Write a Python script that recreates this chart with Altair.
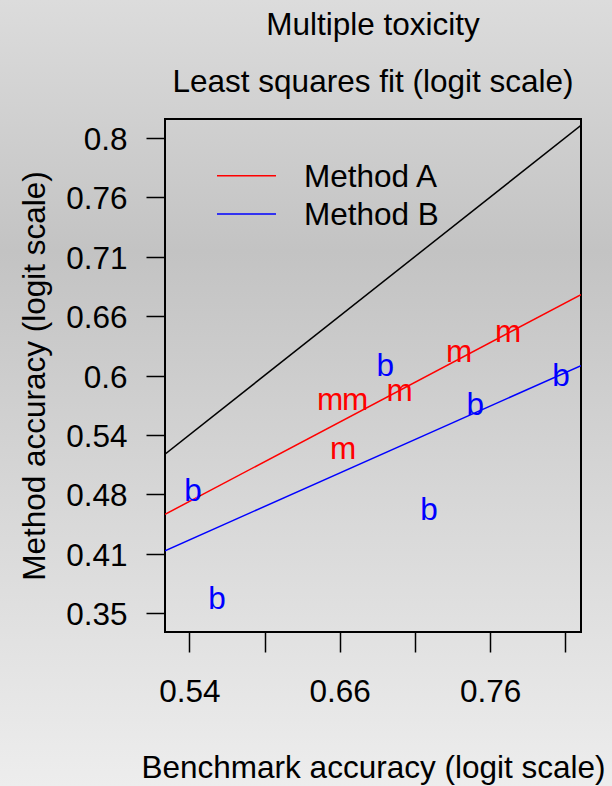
import altair as alt
import pandas as pd

# ---------------- data (probability scale) ----------------
title_main = "Multiple toxicity"
title_sub = "Least squares fit (logit scale)"
x_title = "Benchmark accuracy (logit scale)"
y_title = "Method accuracy (logit scale)"

methods = ["Method A", "Method B"]
letters = ["m", "b"]

a_benchmark = [0.6498, 0.6684, 0.7004, 0.6595, 0.7402, 0.7703]
a_accuracy = [0.5722, 0.5722, 0.5820, 0.5219, 0.6213, 0.6404]
b_benchmark = [0.5404, 0.5602, 0.6902, 0.7205, 0.7503, 0.7999]
b_accuracy = [0.4776, 0.3673, 0.6073, 0.4579, 0.5671, 0.5972]

# least-squares fits in logit space (plus identity line)
fit_names = ["Method A", "Method B", "Identity"]
fit_intercepts = [-0.230, -0.376, 0.0]
fit_slopes = [0.668, 0.563, 1.0]

# axis ticks (logit units) and domains (logit units)
x_ticks = [0.15, 0.40, 0.65, 0.90, 1.15, 1.40]
y_ticks = [-0.60, -0.35, -0.10, 0.15, 0.40, 0.65, 0.90, 1.15, 1.40]
x_domain = [0.0692, 1.452]
y_domain = [-0.6786, 1.4786]

colors = ["#ff0000", "#0000ff", "#000000"]

FONT = "Liberation Sans"
FS = 31.5
W, H = 416, 513

# ---------------- tables ----------------
pts = pd.DataFrame({
    "method": [methods[0]] * len(a_benchmark) + [methods[1]] * len(b_benchmark),
    "letter": [letters[0]] * len(a_benchmark) + [letters[1]] * len(b_benchmark),
    "benchmark": a_benchmark + b_benchmark,
    "accuracy": a_accuracy + b_accuracy,
})

rows = []
for n, i, s in zip(fit_names, fit_intercepts, fit_slopes):
    for xv in x_domain:
        rows.append({"method": n, "x": xv, "y": i + s * xv})
lines_df = pd.DataFrame(rows)

box_df = pd.DataFrame({"x": [x_domain[0]], "x2": [x_domain[1]],
                       "y": [y_domain[0]], "y2": [y_domain[1]]})

color_scale = alt.Scale(domain=fit_names, range=colors)

x_axis = alt.Axis(
    values=x_ticks, domain=False, grid=False, tickSize=20, tickWidth=1.5,
    tickColor="black", labelFont=FONT, labelFontSize=FS, labelColor="black",
    labelPadding=24.5, labelBaseline="top", labelFlush=False, labelOverlap=False,
    labelExpr="round((datum.value - 0.15) / 0.25) % 2 == 0 ? format(1/(1+exp(-datum.value)), '.2~f') : ''",
    title=x_title, titleFont=FONT, titleFontSize=FS, titleFontWeight="normal",
    titleColor="black", titleBaseline="alphabetic", titleAlign="center",
    titleX=W / 2, titleY=145, zindex=2,
)
y_axis = alt.Axis(
    values=y_ticks, domain=False, grid=False, tickSize=19, tickWidth=1.5,
    tickColor="black", labelFont=FONT, labelFontSize=FS, labelColor="black",
    labelPadding=19, labelBaseline="middle", labelAlign="right", labelOffset=2.5,
    labelFlush=False, labelOverlap=False,
    labelExpr="format(1/(1+exp(-datum.value)), '.2~f')",
    title=y_title, titleFont=FONT, titleFontSize=FS, titleFontWeight="normal",
    titleColor="black", titleBaseline="alphabetic", titleAlign="center",
    titleAngle=270, titleX=-121, titleY=H / 2, zindex=2,
)

x_enc = alt.X("x:Q", scale=alt.Scale(domain=x_domain, nice=False, zero=False), axis=x_axis)
y_enc = alt.Y("y:Q", scale=alt.Scale(domain=y_domain, nice=False, zero=False), axis=y_axis)

# ---------------- layers ----------------
bg = alt.Chart(pd.DataFrame({"k": [0]})).mark_rect(
    fill=alt.LinearGradient(
        gradient="linear",
        stops=[
            alt.GradientStop(color="#dcdcdc", offset=0),
            alt.GradientStop(color="#c3c3c3", offset=0.32),
            alt.GradientStop(color="#d6d6d6", offset=0.62),
            alt.GradientStop(color="#ededed", offset=1),
        ],
        x1=0, x2=0, y1=0, y2=1,
    )
).encode(x=alt.value(-165), x2=alt.value(612 - 165),
         y=alt.value(-119), y2=alt.value(786 - 119))

box = alt.Chart(box_df).mark_rect(fillOpacity=0, stroke="black", strokeWidth=2).encode(
    x=x_enc, x2="x2:Q", y=y_enc, y2="y2:Q")

lines = alt.Chart(lines_df).mark_line(strokeWidth=1.5, clip=True).encode(
    x=x_enc, y=y_enc,
    color=alt.Color("method:N", scale=color_scale, legend=None))

points = alt.Chart(pts).transform_calculate(
    x="log(datum.benchmark/(1-datum.benchmark))",
    y="log(datum.accuracy/(1-datum.accuracy))",
).mark_text(font=FONT, fontSize=FS, baseline="middle", align="center").encode(
    x=x_enc, y=y_enc, text="letter:N",
    color=alt.Color("method:N", scale=color_scale, legend=None))

main = alt.layer(box, lines, points)

legend_df = pd.DataFrame({"method": methods})
leg_y = alt.Y("method:N", scale=alt.Scale(type="point", domain=methods,
                                           range=[56.7, 95], padding=0), axis=None)
leg_rule = alt.Chart(legend_df).mark_rule(strokeWidth=1.5).encode(
    y=leg_y, x=alt.value(52), x2=alt.value(111),
    color=alt.Color("method:N", scale=color_scale, legend=None))
leg_text = alt.Chart(legend_df).mark_text(
    font=FONT, fontSize=FS, align="left", baseline="middle", dy=2, color="black"
).encode(y=leg_y, x=alt.value(139), text="method:N")
legend = alt.layer(leg_rule, leg_text)

t1 = alt.Chart(pd.DataFrame({"t": [title_main]})).mark_text(
    font=FONT, fontSize=FS, align="center", baseline="alphabetic", color="black"
).encode(text="t:N", x=alt.value(W / 2), y=alt.value(35 - 119))
t2 = alt.Chart(pd.DataFrame({"t": [title_sub]})).mark_text(
    font=FONT, fontSize=FS, align="center", baseline="alphabetic", color="black"
).encode(text="t:N", x=alt.value(W / 2), y=alt.value(92 - 119))

chart = alt.layer(bg, main, legend, t1, t2).resolve_scale(y="independent").properties(
    width=W, height=H,
    autosize=alt.AutoSizeParams(type="none"),
    padding={"left": 165, "top": 119, "right": 612 - 165 - W, "bottom": 786 - 119 - H},
    background="#d6d6d6",
).configure_view(strokeWidth=0)

chart.save("out.html", embed_options={"renderer": "svg", "actions": False})
